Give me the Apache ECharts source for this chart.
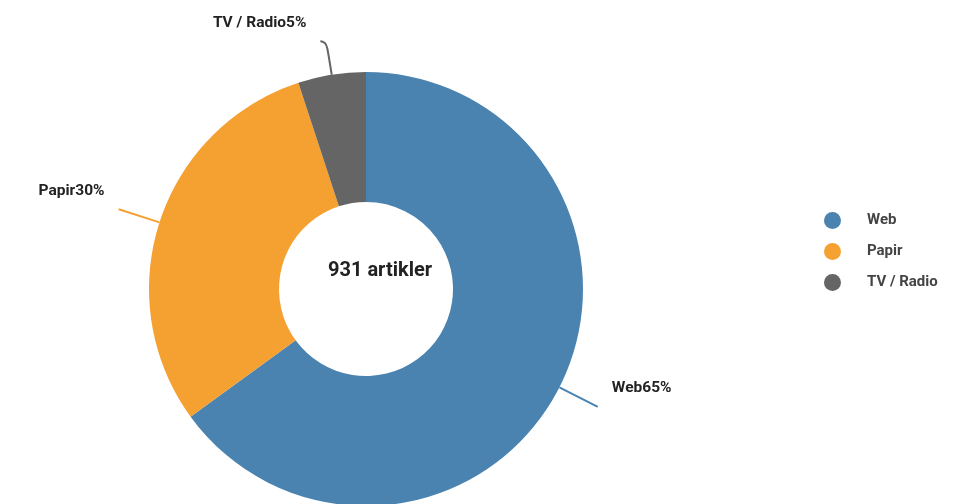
<!DOCTYPE html>
<html>
<head>
<meta charset="utf-8">
<script src="https://cdn.jsdelivr.net/npm/echarts@6/dist/echarts.min.js"></script>
<style>html,body{margin:0;padding:0;background:#fff;}#c{width:969px;height:504px;}</style>
</head>
<body>
<div id="c"></div>
<script>
var categories = ['Web', 'Papir', 'TV / Radio'];
var counts = [605, 279, 47];
var colors = ['#4a83b0', '#f5a132', '#656565'];
var total = counts.reduce(function (a, b) { return a + b; }, 0);
var centerLabel = total + ' artikler';

var chart = echarts.init(document.getElementById('c'), null, { renderer: 'canvas' });
var data = categories.map(function (name, i) {
  var item = { name: name, value: counts[i], itemStyle: { color: colors[i] } };
  if (i === 2) {
    item.labelLine = { length: 34, length2: 6, smooth: 0.6 };
  }
  return item;
});
chart.setOption({
  animation: false,
  legend: {
    orient: 'vertical',
    left: 819,
    top: 207,
    icon: 'circle',
    itemWidth: 17,
    itemHeight: 17,
    itemGap: 14,
    textStyle: { fontFamily: 'Roboto', fontSize: 15, fontWeight: 'bold', color: '#444', padding: [0, 0, 0, 21] },
    data: categories
  },
  graphic: [{
    type: 'text',
    left: 328,
    top: 261,
    style: { text: centerLabel, font: 'bold 20px Roboto', fill: '#222' }
  }],
  series: [{
    type: 'pie',
    center: [366, 289],
    radius: [87, 217],
    startAngle: 90,
    clockwise: true,
    percentPrecision: 0,
    avoidLabelOverlap: false,
    label: {
      show: true,
      formatter: '{t|{b}{d}%}\n{s|}',
      distanceToLabelLine: 14,
      rich: {
        t: { fontFamily: 'Roboto', fontSize: 15.5, fontWeight: 'bold', color: '#222', height: 18 },
        s: { height: 36 }
      }
    },
    labelLine: {
      show: true,
      length: 42,
      length2: 1,
      smooth: 0.4,
      lineStyle: { width: 2 }
    },
    data: data
  }]
});
</script>
</body>
</html>
